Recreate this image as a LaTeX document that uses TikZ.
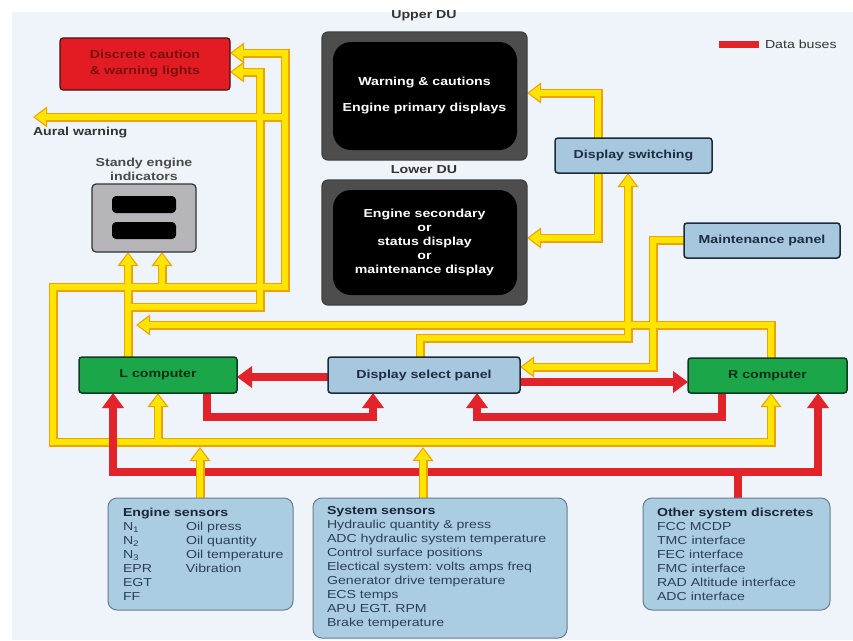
\documentclass[tikz,border=0pt]{standalone}
\usepackage{fontspec}
\setmainfont{Liberation Sans}[FakeStretch=1.22]
\usetikzlibrary{arrows.meta,backgrounds,calc}

\definecolor{panelbg}{HTML}{EEF4FA}
\definecolor{busred}{HTML}{E2232A}
\definecolor{sigyel}{HTML}{FFE400}
\definecolor{sigedge}{HTML}{EFA300}
\definecolor{lampred}{HTML}{E31B23}
\definecolor{lampedge}{HTML}{4A1010}
\definecolor{lamptext}{HTML}{7A1010}
\definecolor{cpugreen}{HTML}{1BA64A}
\definecolor{cpuedge}{HTML}{123A20}
\definecolor{cputext}{HTML}{0E2E16}
\definecolor{ctlblue}{HTML}{A6C7DE}
\definecolor{ctledge}{HTML}{1C2B38}
\definecolor{ctltext}{HTML}{1E2D40}
\definecolor{senblue}{HTML}{AACDE2}
\definecolor{senedge}{HTML}{6B7C8A}
\definecolor{sentext}{HTML}{2E3E58}
\definecolor{senhead}{HTML}{1A2535}
\definecolor{bezel}{HTML}{4D4D4D}
\definecolor{labelgray}{HTML}{333333}
\definecolor{stbytext}{HTML}{4A4A4A}
\definecolor{stbygray}{HTML}{B6B6BA}

\newcommand\dfont{\fontsize{11.6}{14}\selectfont}

\tikzset{
  every node/.style={inner sep=0pt, outer sep=0pt, font=\dfont},
  lamp/.style={draw=lampedge, line width=1.2pt, fill=lampred, rounded corners=3pt,
    minimum width=170pt, minimum height=52pt, text=lamptext, font=\dfont\bfseries, align=center},
  ctlbox/.style={draw=ctledge, line width=1.5pt, fill=ctlblue, rounded corners=3pt,
    text=ctltext, font=\dfont\bfseries, minimum height=35pt},
  cpubox/.style={ctlbox, draw=cpuedge, fill=cpugreen, text=cputext},
  sensor/.style={draw=senedge, line width=1pt, fill=senblue, rounded corners=9pt,
    text=sentext, align=left},
  du/.style={draw=black!75, line width=1.2pt, fill=bezel, rounded corners=6pt,
    minimum width=205pt, text=white, font=\dfont\bfseries, align=center,
    path picture={\fill[black, rounded corners=18pt]
      ($(path picture bounding box.north west)+(11,10)$) rectangle
      ($(path picture bounding box.south east)+(-10,-10)$);}},
  stbybox/.style={draw=black!80, line width=1.2pt, fill=stbygray, rounded corners=4pt,
    minimum width=104pt, minimum height=68pt,
    path picture={\fill[black]
      ($(path picture bounding box.center)+(-32,-22)$) rectangle ($(path picture bounding box.center)+(32,-5)$)
      ($(path picture bounding box.center)+(-32,4)$) rectangle ($(path picture bounding box.center)+(32,21)$);}},
  tag/.style={text=labelgray, font=\dfont\bfseries, align=center},
  rbus/.style={draw=busred, line width=8pt},
  rtip/.style={-{Triangle[length=15pt,width=21pt]}},
  rtips/.style={{Triangle[length=15pt,width=21pt]}-{Triangle[length=15pt,width=21pt]}},
}

% yellow signal routes, drawn twice (edge pass, then fill pass)
\newcommand\yroutes{%
  % sensor bus: R computer, L side loop, up to the warning lights
  \draw[ysig,ytips] (771,0 |- rc.south) |- (53,442) |- (285,287) |- (disc.east |- 0,53);
  \draw[ysig,ytip] (158,442) -- (158,0 |- lc.south);
  \draw[ysig,ytip] (162,287) -- (162,0 |- stby.south);
  \draw[ysig,ytip] (285,117) -- (33,117);
  % L computer outputs
  \draw[ysig,ytip] (128,0 |- lc.north) -- (128,0 |- stby.south);
  \draw[ysig,ytip] (128,307) -| (260,72) -- (disc.east |- 0,72);
  % R computer output
  \draw[ysig,ytip] (771,0 |- rc.north) |- (136,325);
  % display select / switching
  \draw[ysig,ytip] (420,0 |- dsp.north) |- (628,338) -- (628,0 |- sw.south);
  \draw[ysig,ytip] (598,0 |- sw.south) |- (ldu.east |- 0,238);
  \draw[ysig,ytip] (598,0 |- sw.north) |- (udu.east |- 0,93);
  \draw[ysig,ytip] (mp.west |- 0,240) -| (653,367) -- (dsp.east |- 0,367);
}
\newcommand\ystems{%
  \draw[ysig,ytip] (200,0 |- es.north) -- (200,447);
  \draw[ysig,ytip] (423,0 |- ss.north) -- (423,447);
}
\tikzset{
  edgepass/.style={ysig/.style={draw=sigedge, line width=9pt},
    ytip/.style={-{Triangle[length=14pt,width=20pt]}},
    ytips/.style={{Triangle[length=14pt,width=20pt]}-{Triangle[length=14pt,width=20pt]}}},
  fillpass/.style={ysig/.style={draw=sigyel, line width=5.6pt},
    ytip/.style={-{Triangle[length=11pt,width=15pt]}, shorten >=1.8pt},
    ytips/.style={{Triangle[length=11pt,width=15pt]}-{Triangle[length=11pt,width=15pt]},
      shorten >=1.8pt, shorten <=1.8pt}},
}

\begin{document}
\begin{tikzpicture}[x=1pt,y=-1pt]
\useasboundingbox (0,0) rectangle (853,640);
\begin{pgfonlayer}{background}
  \fill[white] (0,0) rectangle (853,640);
  \fill[panelbg] (12,12) rectangle (853,640);
\end{pgfonlayer}

% warning outputs
\node[lamp] (disc) at (145,64) {Discrete caution\\[2pt]\& warning lights};
\node[tag, anchor=west] (aural) at (33,133) {Aural warning};
\node[stbybox] (stby) at (144,218) {};
\node[tag, text=stbytext] (stbylbl) at (144,169.5) {Standy engine\\indicators};

% display units
\node[tag] (udulbl) at (424,16) {Upper DU};
\node[du, minimum height=128pt] (udu) at (424.5,96) {Warning \& cautions\\[12pt]Engine primary displays};
\node[tag] (ldulbl) at (424,170) {Lower DU};
\node[du, minimum height=125pt] (ldu) at (424.5,242.5)
  {Engine secondary\\or\\status display\\or\\maintenance display};

% panels and computers
\node[ctlbox, minimum width=157pt] (sw) at (633.5,155.5) {Display switching};
\node[ctlbox, minimum width=156pt] (mp) at (762,240.5) {Maintenance panel};
\node[cpubox, minimum width=158pt, minimum height=36pt] (lc) at (158,375) {L computer};
\node[ctlbox, minimum width=192pt, minimum height=36pt] (dsp) at (424,375) {Display select panel};
\node[cpubox, minimum width=159pt] (rc) at (767.5,375.5) {R computer};

% legend
\node[fill=busred, minimum width=40pt, minimum height=7pt] (legbar) at (739,44.5) {};
\node[anchor=west, text=labelgray] (legtxt) at (765,44.5) {Data buses};

% sensor sources
\node[sensor, minimum width=185pt, minimum height=112pt, text width=155pt] (es) at (200.5,554) {%
  \textcolor{senhead}{\bfseries Engine sensors}\\
  \makebox[63pt][l]{N\textsubscript{1}}Oil~press\\
  \makebox[63pt][l]{N\textsubscript{2}}Oil~quantity\\
  \makebox[63pt][l]{N\textsubscript{3}}\mbox{Oil temperature}\\
  \makebox[63pt][l]{EPR}Vibration\\
  EGT\\
  FF};
\node[sensor, minimum width=254pt, minimum height=140pt, text width=226pt] (ss) at (440,568) {%
  \textcolor{senhead}{\bfseries System sensors}\\
  Hydraulic~quantity~\&~press\\
  ADC~hydraulic~system~temperature\\
  Control~surface~positions\\
  Electical~system:~volts~amps~freq\\
  Generator~drive~temperature\\
  ECS~temps\\
  APU~EGT.~RPM\\
  Brake~temperature};
\node[sensor, minimum width=187pt, minimum height=112pt, text width=159pt] (od) at (736.5,554) {%
  \textcolor{senhead}{\bfseries Other~system~discretes}\\
  FCC~MCDP\\
  TMC~interface\\
  FEC~interface\\
  FMC~interface\\
  RAD~Altitude~interface\\
  ADC~interface};

% connectors
\begin{pgfonlayer}{background}
  \begin{scope}[edgepass] \yroutes \end{scope}
  \begin{scope}[fillpass] \yroutes \end{scope}

  % data buses
  \draw[rbus,rtip] (dsp.west |- 0,377) -- (lc.east |- 0,377);
  \draw[rbus,rtip] (dsp.east |- 0,382) -- (rc.west |- 0,382);
  \draw[rbus,rtip] (207,0 |- lc.south) |- (373,417) -- (373,0 |- dsp.south);
  \draw[rbus,rtip] (722,0 |- rc.south) |- (477,417) -- (477,0 |- dsp.south);
  \draw[rbus,rtips] (113,0 |- lc.south) |- (818,472) -- (818,0 |- rc.south);
  \draw[rbus] (738,0 |- od.north) -- (738,472);

  \begin{scope}[edgepass] \ystems \end{scope}
  \begin{scope}[fillpass] \ystems \end{scope}
\end{pgfonlayer}
\end{tikzpicture}
\end{document}
